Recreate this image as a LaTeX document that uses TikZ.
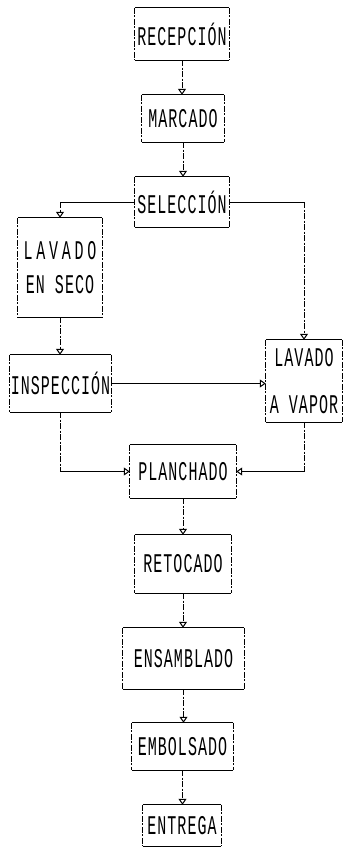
\documentclass[tikz,border=0pt]{standalone}
\usepackage{fontspec}
\usetikzlibrary{arrows.meta}
\newfontfamily\dotfont[LetterSpace=7]{Liberation Mono}
\newfontfamily\widefont[LetterSpace=25]{Liberation Mono}
\newcommand\tl[1]{\scalebox{1}[1.8]{#1}}
\newcommand\drawbox[1]{%
  \draw[hline] (#1.north west) -- (#1.north east) (#1.south west) -- (#1.south east);
  \draw[vline] (#1.north west) -- (#1.south west) (#1.north east) -- (#1.south east);}
\tikzset{
  stepbox/.style={rectangle, inner sep=0pt, font=\dotfont\fontsize{15}{15}\selectfont, align=center},
  hline/.style={line width=0.9pt, black},
  vline/.style={line width=0.8pt, black, dash pattern=on 6pt off 1.5pt on 2pt off 1.5pt},
  tip/.style={-{Triangle[open,length=6pt,width=8pt,line width=1pt]}},
}
\begin{document}
\begin{tikzpicture}[x=1pt,y=-1pt]
\useasboundingbox (0,0) rectangle (344,847);
\node[stepbox, minimum width=94pt, minimum height=52pt] (rec) at (182,34) {\tl{RECEPCIÓN}};
\node[stepbox, minimum width=82pt, minimum height=47pt] (mar) at (183,118.5) {\tl{MARCADO}};
\node[stepbox, minimum width=94pt, minimum height=50pt] (sel) at (182,202) {\tl{SELECCIÓN}};
\node[stepbox, minimum width=84pt, minimum height=99pt] (lsec) at (60,267.5) {\tl{\widefont LAVADO}\\[14pt]\tl{EN SECO}};
\node[stepbox, minimum width=101pt, minimum height=57pt] (insp) at (60.5,383.5) {\tl{INSPECCIÓN}};
\node[stepbox, minimum width=76pt, minimum height=82pt] (lvap) at (304,381) {\tl{LAVADO}\\[28pt]\tl{A VAPOR}};
\node[stepbox, minimum width=106pt, minimum height=53pt] (plan) at (183,471.5) {\tl{PLANCHADO}};
\node[stepbox, minimum width=96pt, minimum height=58pt] (ret) at (183,564) {\tl{RETOCADO}};
\node[stepbox, minimum width=121pt, minimum height=61pt] (ens) at (183.5,658.5) {\tl{ENSAMBLADO}};
\node[stepbox, minimum width=101pt, minimum height=47pt] (emb) at (182.5,746.5) {\tl{EMBOLSADO}};
\node[stepbox, minimum width=78pt, minimum height=41pt] (ent) at (182,825.5) {\tl{ENTREGA}};
\foreach \n in {rec,mar,sel,lsec,insp,lvap,plan,ret,ens,emb,ent} {\drawbox{\n}}
% vertical chain
\draw[vline,tip] (rec.south) -- (rec.south |- mar.north);
\draw[vline,tip] (mar.south) -- (mar.south |- sel.north);
\draw[vline,tip] (lsec.south) -- (lsec.south |- insp.north);
\draw[vline,tip] (plan.south) -- (plan.south |- ret.north);
\draw[vline,tip] (ret.south) -- (ret.south |- ens.north);
\draw[vline,tip] (ens.south) -- (ens.south |- emb.north);
\draw[vline,tip] (emb.south) -- (emb.south |- ent.north);
% branches
\coordinate (c1) at (sel.west -| lsec.north);
\draw[hline] (sel.west) -- (c1);
\draw[vline,tip] (c1) -- (lsec.north);
\coordinate (c2) at (sel.east -| lvap.north);
\draw[hline] (sel.east) -- (c2);
\draw[vline,tip] (c2) -- (lvap.north);
\draw[hline,tip] (insp.east) -- (insp.east -| lvap.west);
\coordinate (c3) at (insp.south |- plan.west);
\draw[vline] (insp.south) -- (c3);
\draw[hline,tip] (c3) -- (plan.west);
\coordinate (c4) at (lvap.south |- plan.east);
\draw[vline] (lvap.south) -- (c4);
\draw[hline,tip] (c4) -- (plan.east);
\end{tikzpicture}
\end{document}
